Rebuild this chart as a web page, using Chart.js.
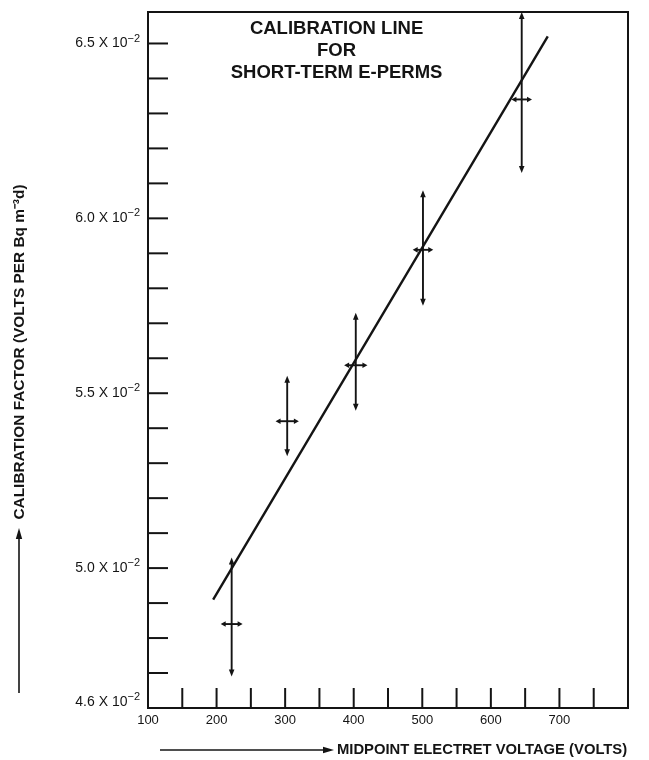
<!DOCTYPE html>
<html>
<head>
<meta charset="utf-8">
<script src="https://cdn.jsdelivr.net/npm/chart.js@4.4.1/dist/chart.umd.min.js"></script>
<style>
html, body { margin: 0; padding: 0; background: #fff; }
#caja { width: 649px; height: 760px; }
</style>
</head>
<body>
<div id="caja"><canvas id="graficoCalibracion" width="649" height="760"></canvas></div>
<script>
// factor de calibracion en unidades de 10^-2 V por Bq m^-3 d
var voltaje = [222, 303, 403, 501, 645];
var factor = [4.84, 5.42, 5.58, 5.91, 6.34];
var factorMin = [4.69, 5.32, 5.45, 5.75, 6.13];
var factorMax = [5.03, 5.55, 5.73, 6.08, 6.59];
var errVoltaje = [16, 17, 17, 15, 15];

// recta de calibracion (extremos)
var rectaX = [195, 683];
var rectaY = [4.91, 6.52];

var etiquetasX = [100, 200, 300, 400, 500, 600, 700];
var etiquetasY = [4.6, 5.0, 5.5, 6.0, 6.5];
var marcasX = [150, 200, 250, 300, 350, 400, 450, 500, 550, 600, 650, 700, 750];
var marcasY = [4.7, 4.8, 4.9, 5.0, 5.1, 5.2, 5.3, 5.4, 5.5, 5.6, 5.7, 5.8, 5.9, 6.0, 6.1, 6.2, 6.3, 6.4, 6.5];

var titulo = ['CALIBRATION LINE', 'FOR', 'SHORT-TERM E-PERMS'];
var tituloX = 'MIDPOINT ELECTRET VOLTAGE (VOLTS)';
var tituloY = 'CALIBRATION FACTOR (VOLTS PER Bq m\u207B\u00B3d)';

var negro = '#141414';
var fuente = '"Liberation Sans", Arial, sans-serif';

function flecha(ctx, x1, y1, x2, y2, largo, ancho) {
   var ang = Math.atan2(y2 - y1, x2 - x1);
   ctx.beginPath();
   ctx.moveTo(x1, y1);
   ctx.lineTo(x2 - Math.cos(ang) * largo * 0.6, y2 - Math.sin(ang) * largo * 0.6);
   ctx.stroke();
   ctx.beginPath();
   ctx.moveTo(x2, y2);
   ctx.lineTo(x2 - Math.cos(ang) * largo - Math.sin(ang) * ancho, y2 - Math.sin(ang) * largo + Math.cos(ang) * ancho);
   ctx.lineTo(x2 - Math.cos(ang) * largo + Math.sin(ang) * ancho, y2 - Math.sin(ang) * largo - Math.cos(ang) * ancho);
   ctx.closePath();
   ctx.fill();
}

var marcoYExtras = {
   id: 'marcoYExtras',
   afterDatasetsDraw: function (chart) {
      var ctx = chart.ctx;
      var a = chart.chartArea;
      var sx = chart.scales.x;
      var sy = chart.scales.y;
      ctx.save();
      ctx.strokeStyle = negro;
      ctx.fillStyle = negro;
      ctx.lineCap = 'butt';

      // marco
      ctx.lineWidth = 2;
      ctx.strokeRect(a.left, a.top, a.right - a.left, a.bottom - a.top);

      // marcas hacia dentro
      marcasX.forEach(function (v) {
         var px = sx.getPixelForValue(v);
         ctx.beginPath();
         ctx.moveTo(px, a.bottom);
         ctx.lineTo(px, a.bottom - 20);
         ctx.stroke();
      });
      marcasY.forEach(function (v) {
         var py = sy.getPixelForValue(v);
         ctx.beginPath();
         ctx.moveTo(a.left, py);
         ctx.lineTo(a.left + 20, py);
         ctx.stroke();
      });

      // etiquetas del eje y con exponente
      ctx.textBaseline = 'middle';
      etiquetasY.forEach(function (v, k) {
         var py = sy.getPixelForValue(v) - (k === 0 ? 6 : 0);
         ctx.font = '11px ' + fuente;
         ctx.textAlign = 'right';
         var exp = '\u22122';
         ctx.fillText(exp, a.left - 8, py - 5);
         var w = ctx.measureText(exp).width;
         ctx.font = '14px ' + fuente;
         ctx.fillText(v.toFixed(1) + ' X 10', a.left - 8 - w, py);
      });

      // barras de error con flechas
      ctx.lineWidth = 1.9;
      for (var i = 0; i < voltaje.length; i++) {
         var px = sx.getPixelForValue(voltaje[i]);
         var py = sy.getPixelForValue(factor[i]);
         var yArriba = sy.getPixelForValue(factorMax[i]);
         var yAbajo = sy.getPixelForValue(factorMin[i]);
         var xIzq = sx.getPixelForValue(voltaje[i] - errVoltaje[i]);
         var xDer = sx.getPixelForValue(voltaje[i] + errVoltaje[i]);
         flecha(ctx, px, py, px, yArriba, 7, 2.8);
         flecha(ctx, px, py, px, yAbajo, 7, 2.8);
         flecha(ctx, px, py, xIzq, py, 5, 2.8);
         flecha(ctx, px, py, xDer, py, 5, 2.8);
      }

      // titulo dentro del grafico
      ctx.textAlign = 'center';
      ctx.textBaseline = 'middle';
      ctx.font = 'bold 18.5px ' + fuente;
      var cx = sx.getPixelForValue(375);
      titulo.forEach(function (t, k) {
         ctx.fillText(t, cx, 29 + k * 22);
      });

      // titulo eje x con flecha
      ctx.font = 'bold 14.8px ' + fuente;
      ctx.textAlign = 'left';
      ctx.fillText(tituloX, 337, 750);
      ctx.lineWidth = 1.6;
      flecha(ctx, 160, 750, 334, 750, 11, 3.2);

      // titulo eje y con flecha
      ctx.save();
      ctx.translate(20, 352);
      ctx.rotate(-Math.PI / 2);
      ctx.textAlign = 'center';
      ctx.font = 'bold 15.4px ' + fuente;
      ctx.fillText(tituloY, 0, 0);
      ctx.restore();
      flecha(ctx, 19, 693, 19, 528, 11, 3.2);

      ctx.restore();
   }
};

var ctxCalibracion = document.getElementById('graficoCalibracion').getContext('2d');

var graficoCalibracion = new Chart(ctxCalibracion, {
   type: 'scatter',
   data: {
      datasets: [{
         label: 'Recta de calibracion',
         data: rectaX.map(function (x, i) { return { x: x, y: rectaY[i] }; }),
         showLine: true,
         borderColor: negro,
         borderWidth: 2.4,
         pointRadius: 0
      }, {
         label: 'Medidas',
         data: voltaje.map(function (x, i) { return { x: x, y: factor[i] }; }),
         pointRadius: 0
      }]
   },
   options: {
      responsive: false,
      animation: false,
      layout: { padding: { top: 12, right: 21, left: 0, bottom: 0 } },
      plugins: {
         legend: { display: false },
         tooltip: { enabled: false }
      },
      scales: {
         x: {
            type: 'linear',
            min: 100,
            max: 800,
            afterFit: function (s) { s.height = 52; },
            afterBuildTicks: function (s) {
               s.ticks = etiquetasX.map(function (v) { return { value: v }; });
            },
            grid: { display: false, drawTicks: false },
            border: { display: false },
            ticks: {
               color: negro,
               padding: 5,
               maxRotation: 0,
               font: { family: fuente, size: 13 }
            }
         },
         y: {
            type: 'linear',
            min: 4.6,
            max: 6.59,
            afterFit: function (s) { s.width = 148; },
            afterBuildTicks: function (s) {
               s.ticks = etiquetasY.map(function (v) { return { value: v }; });
            },
            grid: { display: false, drawTicks: false },
            border: { display: false },
            ticks: { display: false }
         }
      }
   },
   plugins: [marcoYExtras]
});
</script>
</body>
</html>
